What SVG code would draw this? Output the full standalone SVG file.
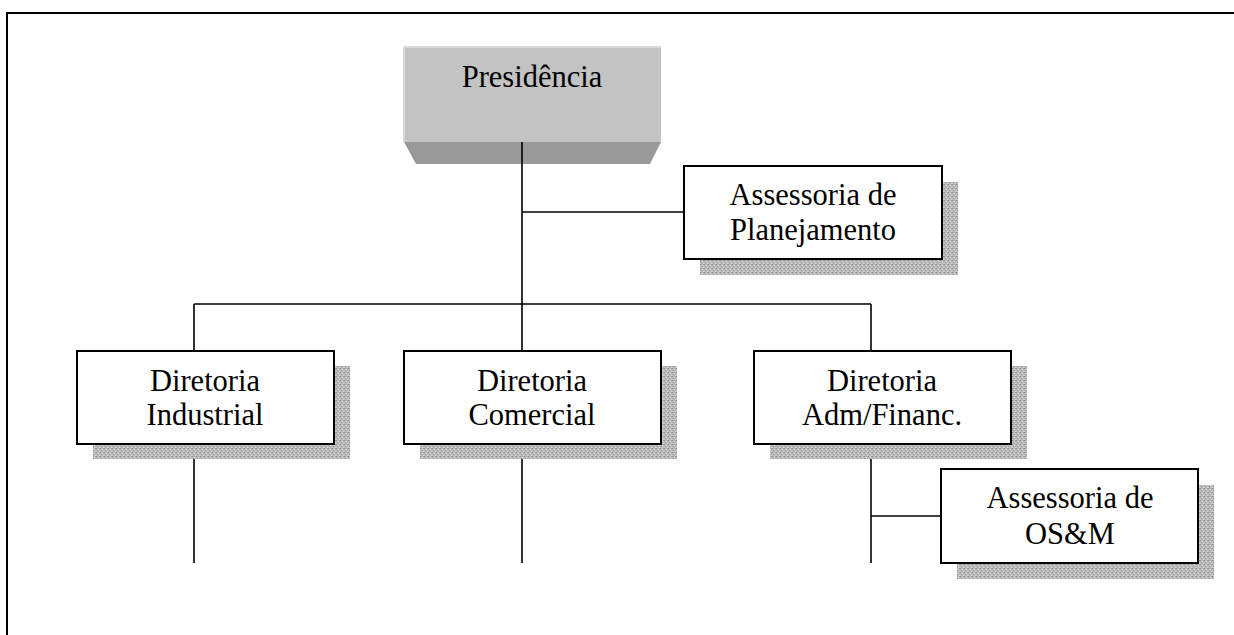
<svg xmlns="http://www.w3.org/2000/svg" width="1234" height="635" viewBox="0 0 1234 635">
<defs>
<pattern id="dots" x="0" y="0" width="4" height="4" patternUnits="userSpaceOnUse">
<rect width="4" height="4" fill="#b8b8b8"/>
<rect x="0" y="0" width="1" height="1" fill="#8c8c8c"/>
<rect x="2" y="1" width="1" height="1" fill="#e0e0e0"/>
<rect x="1" y="2" width="1" height="1" fill="#9a9a9a"/>
<rect x="3" y="3" width="1" height="1" fill="#d4d4d4"/>
<rect x="3" y="0" width="1" height="1" fill="#a4a4a4"/>
<rect x="0" y="3" width="1" height="1" fill="#c8c8c8"/>
</pattern>
<style>
.box{fill:#ffffff;stroke:#000;stroke-width:2}
.shadow{fill:url(#dots)}
.t{font-family:"Liberation Serif","Times New Roman",serif;font-size:30.5px;fill:#000;text-anchor:middle}
.ln{stroke:#000;stroke-width:1.6;fill:none}
</style>
</defs>
<rect width="1234" height="635" fill="#ffffff"/>
<path d="M7,640 V13 H1240" fill="none" stroke="#000" stroke-width="2"/>

<g id="connectors">
<line class="ln" x1="522" y1="142" x2="522" y2="351"/>
<line class="ln" x1="522" y1="212" x2="684" y2="212"/>
<line class="ln" x1="194" y1="304" x2="871" y2="304"/>
<line class="ln" x1="194" y1="304" x2="194" y2="351"/>
<line class="ln" x1="871" y1="304" x2="871" y2="351"/>
<line class="ln" x1="194" y1="444" x2="194" y2="563"/>
<line class="ln" x1="522" y1="444" x2="522" y2="563"/>
<line class="ln" x1="871" y1="444" x2="871" y2="563"/>
<line class="ln" x1="871" y1="516" x2="941" y2="516"/>
</g>

<g id="presidencia">
<rect x="404" y="47" width="257" height="95" fill="#c3c3c3"/>
<path d="M404,47 H661 M404,47 V142" stroke="#d8d8d8" stroke-width="2" fill="none"/>
<polygon points="404,142 661,142 650,164 416,164" fill="#999999"/>
<line class="ln" x1="522" y1="142" x2="522" y2="164"/>
<text class="t" x="532" y="87">Presidência</text>
</g>

<g id="assessoria-planejamento">
<rect class="shadow" x="700" y="182" width="258" height="93"/>
<rect class="box" x="684" y="166" width="258" height="93"/>
<text class="t" x="813" y="205">Assessoria de</text>
<text class="t" x="813" y="240">Planejamento</text>
</g>

<g id="diretoria-industrial">
<rect class="shadow" x="93" y="366" width="257" height="93"/>
<rect class="box" x="77" y="351" width="257" height="93"/>
<text class="t" x="205" y="391">Diretoria</text>
<text class="t" x="205" y="425">Industrial</text>
</g>

<g id="diretoria-comercial">
<rect class="shadow" x="420" y="366" width="257" height="93"/>
<rect class="box" x="404" y="351" width="257" height="93"/>
<text class="t" x="532" y="391">Diretoria</text>
<text class="t" x="532" y="425">Comercial</text>
</g>

<g id="diretoria-adm">
<rect class="shadow" x="770" y="366" width="257" height="93"/>
<rect class="box" x="754" y="351" width="257" height="93"/>
<text class="t" x="882" y="391">Diretoria</text>
<text class="t" x="882" y="425">Adm/Financ.</text>
</g>

<g id="assessoria-osm">
<rect class="shadow" x="957" y="485" width="257" height="94"/>
<rect class="box" x="941" y="469" width="257" height="94"/>
<text class="t" x="1070" y="508">Assessoria de</text>
<text class="t" x="1070" y="544">OS&amp;M</text>
</g>
</svg>
